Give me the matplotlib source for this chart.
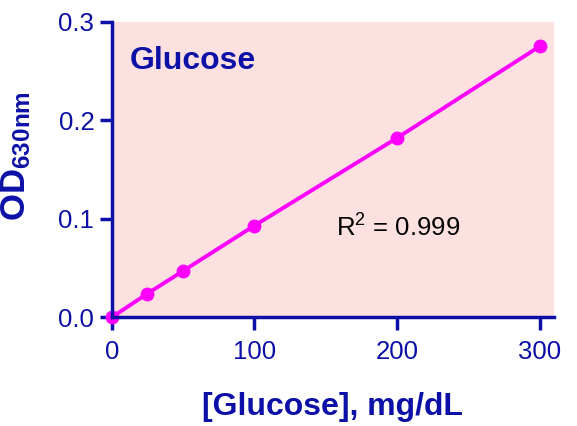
import numpy as np
import matplotlib
matplotlib.use('Agg')
import matplotlib.pyplot as plt

plt.rcParams['font.family'] = ['Liberation Sans', 'DejaVu Sans']
plt.rcParams['mathtext.fontset'] = 'custom'
plt.rcParams['mathtext.rm'] = 'Liberation Sans'
plt.rcParams['mathtext.bf'] = 'Liberation Sans:bold'

# glucose standards (mg/dL) and OD630
conc = [0, 25, 50, 100, 200, 300]
od = [0.0, 0.024, 0.047, 0.093, 0.182, 0.275]
xticks = [0, 100, 200, 300]
yticks = [0.0, 0.1, 0.2, 0.3]
ytick_labels = ['0.0', '0.1', '0.2', '0.3']

navy = '#0c10a6'
magenta = '#ff00ff'
pink = '#fde1e1'

fig = plt.figure(figsize=(5.77, 4.26), dpi=100)
ax = fig.add_axes([0.1936, 0.2552, 0.7664, 0.6938])
ax.set_facecolor(pink)

ax.plot(conc, od, color=magenta, lw=2.8, marker='o', ms=9, clip_on=False, zorder=2)

ax.set_xlim(0, 310)
ax.set_ylim(0, 0.3)
ax.set_xticks(xticks)
ax.set_yticks(yticks)
ax.set_yticklabels(ytick_labels)

for s in ['top', 'right']:
    ax.spines[s].set_visible(False)
for s in ['left', 'bottom']:
    ax.spines[s].set_color(navy)
    ax.spines[s].set_linewidth(2.5)

ax.tick_params(axis='both', colors=navy, width=2.5, length=9, labelsize=18.5)
ax.tick_params(axis='x', pad=7.5)
ax.tick_params(axis='y', pad=3.5)

ax.set_xlabel('[Glucose], mg/dL', fontsize=23, fontweight='bold', color=navy, labelpad=20)
ax.set_ylabel(r'$\mathbf{OD_{630nm}}$', fontsize=25, color=navy)
ax.yaxis.set_label_coords(-0.177, 0.547)

ax.text(0.0414, 0.840, 'Glucose', transform=ax.transAxes, fontsize=23,
        fontweight='bold', color=navy, va='baseline', ha='left')
ax.text(157, 0.0828, r'R$^2$ = 0.999', fontsize=18.5, color='black', va='baseline', ha='left')

fig.savefig('out.png', dpi=100)
